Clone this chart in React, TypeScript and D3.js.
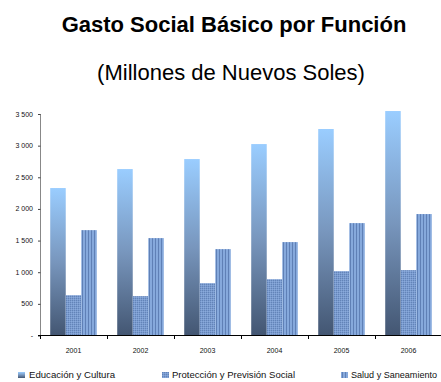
import React from "react";
import * as d3 from "d3";

const years = ["2001", "2002", "2003", "2004", "2005", "2006"];
const seriesNames = ["Educación y Cultura", "Protección y Previsión Social", "Salud y Saneamiento"];
const educacion = [2330, 2630, 2788, 3025, 3263, 3547];
const proteccion = [637, 622, 827, 890, 1017, 1033];
const salud = [1665, 1539, 1365, 1476, 1776, 1919];
const yTicks = [0, 500, 1000, 1500, 2000, 2500, 3000, 3500];

const W = 441;
const H = 382;
const fills = ["url(#gEdu)", "url(#pProt)", "url(#pSalud)"];

export default function App() {
  const x0 = d3.scaleBand<string>().domain(years).range([40, 442]).paddingInner(0);
  const bw = x0.bandwidth();
  const groupW = bw * 0.695;
  const x1 = d3
    .scaleBand<string>()
    .domain(seriesNames)
    .range([(bw - groupW) / 2, (bw + groupW) / 2])
    .padding(0);
  const y = d3.scaleLinear().domain([0, 3500]).range([335.5, 114]);
  const series = [educacion, proteccion, salud];
  const fmt = (v: number) => (v === 0 ? "-" : d3.format(",")(v).replace(",", " "));
  const font = "'Liberation Sans', Arial, sans-serif";

  const legendX = [
    { m: 18, t: 29, w: 86 },
    { m: 162, t: 172, w: 123 },
    { m: 341, t: 351, w: 86 },
  ];

  return (
    <svg
      width={W}
      height={H}
      style={{ position: "absolute", left: 0, top: 0, background: "#fff" }}
      fontFamily={font}
    >
      <defs>
        <linearGradient id="gEdu" x1="0" y1="0" x2="0" y2="1">
          <stop offset="0" stopColor="#9acdff" />
          <stop offset="0.5" stopColor="#7896bd" />
          <stop offset="1" stopColor="#435672" />
        </linearGradient>
        <pattern id="pProt" width="2" height="2" patternUnits="userSpaceOnUse">
          <rect width="2" height="2" fill="#7a9bcf" />
          <rect width="1" height="1" fill="#6384b8" />
          <rect x="1" y="1" width="1" height="1" fill="#8aaadb" />
        </pattern>
        <pattern id="pSalud" width="3" height="3" patternUnits="userSpaceOnUse">
          <rect width="3" height="3" fill="#86a9dc" />
          <rect width="1" height="3" fill="#5f80b6" />
        </pattern>
      </defs>

      <text x={234} y={32} textAnchor="middle" fontSize={22} fontWeight="bold" fill="#000">
        Gasto Social Básico por Función
      </text>
      <text x={231} y={80} textAnchor="middle" fontSize={22} fill="#000">
        (Millones de Nuevos Soles)
      </text>

      {years.map((yr, i) => (
        <g key={yr} transform={`translate(${x0(yr)},0)`}>
          {seriesNames.map((s, j) => (
            <rect
              key={s}
              x={x1(s)}
              y={y(series[j][i])}
              width={x1.bandwidth()}
              height={y(0) - y(series[j][i])}
              fill={fills[j]}
            />
          ))}
        </g>
      ))}

      {/* Y axis */}
      <line x1={40.5} x2={40.5} y1={114} y2={335.5} stroke="#888" strokeWidth={1} />
      {yTicks.map((t) => (
        <g key={t}>
          <line x1={38} x2={40.5} y1={y(t) + 0.5} y2={y(t) + 0.5} stroke="#444" />
          <text x={33} y={y(t) + 2.5} textAnchor="end" fontSize={7} fill="#111">
            {fmt(t)}
          </text>
        </g>
      ))}

      {/* X axis */}
      <line x1={38} x2={441} y1={335.5} y2={335.5} stroke="#000" strokeWidth={1.2} />
      {years.map((yr) => (
        <line
          key={"t" + yr}
          x1={Math.round(x0(yr)!) + 0.5}
          x2={Math.round(x0(yr)!) + 0.5}
          y1={335}
          y2={339}
          stroke="#000"
        />
      ))}
      {years.map((yr) => (
        <text
          key={"l" + yr}
          x={x0(yr)! + bw / 2}
          y={353}
          textAnchor="middle"
          fontSize={7}
          fill="#111"
        >
          {yr}
        </text>
      ))}

      {/* Legend */}
      {seriesNames.map((s, j) => (
        <g key={"lg" + s}>
          <rect x={legendX[j].m} y={372} width={7} height={6} fill={fills[j]} />
          <text
            x={legendX[j].t}
            y={378}
            fontSize={9.5}
            fill="#111"
            textLength={legendX[j].w}
            lengthAdjust="spacingAndGlyphs"
          >
            {s}
          </text>
        </g>
      ))}
    </svg>
  );
}
